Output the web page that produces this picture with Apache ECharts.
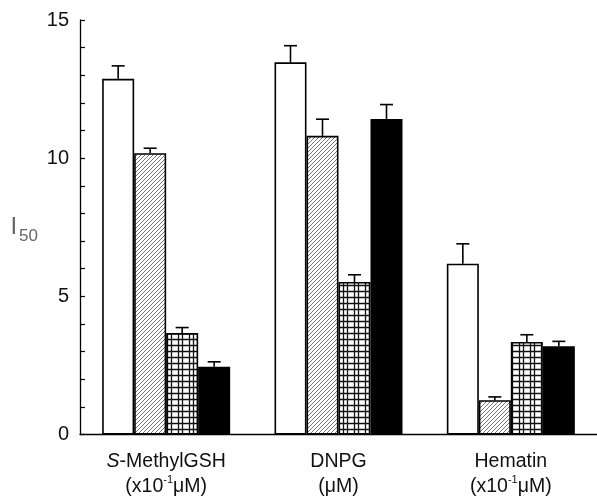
<!DOCTYPE html>
<html>
<head>
<meta charset="utf-8">
<script src="https://cdn.jsdelivr.net/npm/echarts@6/dist/echarts.min.js"></script>
<style>html,body{margin:0;padding:0;background:#fff}#c{width:597px;height:497px}</style>
</head>
<body>
<div id="c"></div>
<script>
// ---- data ----
const categories = ['S-MethylGSH', 'DNPG', 'Hematin'];
const unitLabels = ['(x10-1μM)', '(μM)', '(x10-1μM)'];
const openValues = [12.87, 13.47, 6.18];
const hatchedValues = [10.18, 10.81, 1.24];
const gridValues = [3.67, 5.52, 3.35];
const solidValues = [2.45, 11.42, 3.19];
const openErr = [0.47, 0.60, 0.72];
const hatchedErr = [0.18, 0.60, 0.12];
const gridErr = [0.20, 0.26, 0.26];
const solidErr = [0.18, 0.52, 0.18];
const yTicks = [0, 5, 10, 15];

// ---- patterns ----
function hatchPattern() {
  const c = document.createElement('canvas');
  c.width = 4; c.height = 4;
  const g = c.getContext('2d');
  g.fillStyle = '#fff'; g.fillRect(0, 0, 4, 4);
  g.strokeStyle = '#777'; g.lineWidth = 1;
  g.beginPath();
  g.moveTo(-1, 5); g.lineTo(5, -1);
  g.moveTo(-5, 5); g.lineTo(1, -1);
  g.moveTo(3, 5); g.lineTo(9, -1);
  g.stroke();
  return c;
}
function gridPattern() {
  const c = document.createElement('canvas');
  c.width = 11; c.height = 12;
  const g = c.getContext('2d');
  g.fillStyle = '#fff'; g.fillRect(0, 0, 11, 12);
  g.strokeStyle = '#111'; g.lineWidth = 1.3;
  g.beginPath();
  g.moveTo(2.5, 0); g.lineTo(2.5, 12);
  g.moveTo(6.5, 0); g.lineTo(6.5, 12);
  g.moveTo(0, 3.5); g.lineTo(11, 3.5);
  g.moveTo(0, 9.5); g.lineTo(11, 9.5);
  g.stroke();
  return c;
}

const BAR_W = 32;
const barSeries = [
  { name: 'open', values: openValues, err: openErr, color: '#ffffff' },
  { name: 'hatched', values: hatchedValues, err: hatchedErr, color: { image: hatchPattern(), repeat: 'repeat' } },
  { name: 'grid', values: gridValues, err: gridErr, color: { image: gridPattern(), repeat: 'repeat' } },
  { name: 'solid', values: solidValues, err: solidErr, color: '#000000' }
];

const series = [];
barSeries.forEach(function (s) {
  series.push({
    type: 'bar', name: s.name, data: s.values, barWidth: BAR_W, barGap: '0%',
    itemStyle: { color: s.color, borderColor: '#000', borderWidth: 1.6 },
    silent: true, z: 2
  });
});
barSeries.forEach(function (s, k) {
  const offset = (k - (barSeries.length - 1) / 2) * BAR_W;
  series.push({
    type: 'custom', name: s.name + '-err', z: 3, silent: true,
    data: s.values.map(function (v, i) { return [i, v, s.err[i]]; }),
    renderItem: function (params, api) {
      const base = api.coord([api.value(0), api.value(1)]);
      const top = api.coord([api.value(0), api.value(1) + api.value(2)]);
      const x = base[0] + offset;
      const style = { stroke: '#000', lineWidth: 1.6 };
      return { type: 'group', children: [
        { type: 'line', shape: { x1: x, y1: base[1], x2: x, y2: top[1] }, style: style },
        { type: 'line', shape: { x1: x - 6.5, y1: top[1], x2: x + 6.5, y2: top[1] }, style: style }
      ]};
    }
  });
});

function xLabel(value, index) {
  const u = unitLabels[index];
  let first;
  if (value.indexOf('S-') === 0) first = '{i|S}{r|' + value.slice(1) + '}';
  else first = '{r|' + value + '}';
  let second;
  if (u.indexOf('-1') >= 0) {
    const parts = u.split('-1');
    second = '{r|' + parts[0] + '}{sup|-1}{r|' + parts[1] + '}';
  } else second = '{r|' + u + '}';
  return first + '\n' + second;
}

const FONT = 'Liberation Sans, Arial, sans-serif';
const chart = echarts.init(document.getElementById('c'), null, { renderer: 'canvas' });
chart.setOption({
  animation: false,
  backgroundColor: '#fff',
  grid: { left: 80, right: -3, top: 20, bottom: 62, containLabel: false },
  xAxis: {
    type: 'category', data: categories,
    axisLine: { lineStyle: { color: '#000', width: 1.3 } },
    axisTick: { show: false },
    axisLabel: {
      margin: 15, formatter: xLabel, interval: 0,
      rich: {
        r: { fontFamily: FONT, fontSize: 19.5, color: '#111', lineHeight: 25 },
        i: { fontFamily: FONT, fontSize: 19.5, fontStyle: 'italic', color: '#111', lineHeight: 25 },
        sup: { fontFamily: FONT, fontSize: 11, color: '#111', lineHeight: 25, verticalAlign: 'top', padding: [0, 0, 9, 0] }
      }
    }
  },
  yAxis: {
    type: 'value', min: 0, max: 15, interval: 5,
    name: '{a|I}{b|50}', nameLocation: 'middle', nameGap: 42, nameRotate: 0,
    nameTextStyle: {
      rich: {
        a: { fontFamily: FONT, fontSize: 24, color: '#666' },
        b: { fontFamily: FONT, fontSize: 17, color: '#666', padding: [18, 0, 0, 2] }
      }
    },
    axisLine: { show: true, lineStyle: { color: '#000', width: 1.3 } },
    axisTick: { show: true, inside: true, length: 5, lineStyle: { color: '#000', width: 1.2 } },
    minorTick: { show: true, splitNumber: 5, length: 5, lineStyle: { color: '#000', width: 1.2 } },
    splitLine: { show: false },
    axisLabel: {
      margin: 11, fontFamily: FONT, fontSize: 20, color: '#111',
      formatter: function (v) { return yTicks.indexOf(v) >= 0 ? String(v) : ''; }
    }
  },
  series: series
});
</script>
</body>
</html>
